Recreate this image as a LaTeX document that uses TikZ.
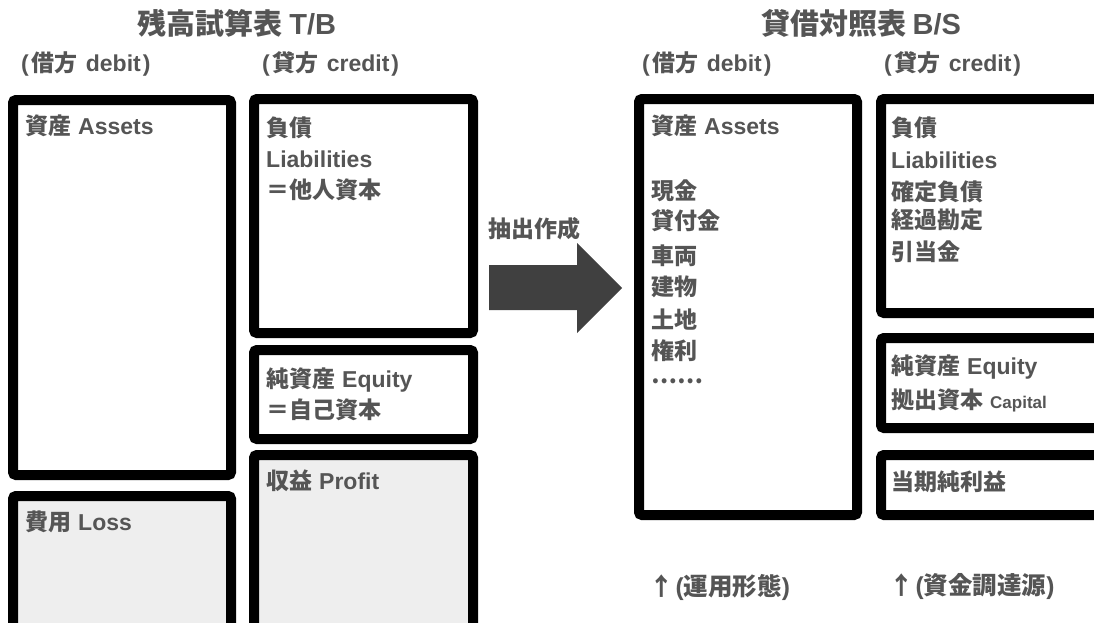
\documentclass[tikz,border=0pt]{standalone}
\usepackage{fontspec}
\setmainfont{Noto Sans CJK JP}
\newfontfamily\latfont{Liberation Sans}
\newcommand\enw[1]{{\latfont\bfseries #1}}
\newcommand\hdtext[2]{\enw{(}\kern3pt #1\hspace{8pt}\enw{#2}\kern2pt\enw{)}}
\begin{document}
\begin{tikzpicture}[x=1pt,y=-1pt,
  bx/.style={draw=black,line width=10pt,rounded corners=3pt,inner sep=0pt,outer sep=0pt},
  gr/.style={fill=gray!13},
  lb/.style={anchor=west,inner sep=0pt,text=txt,font=\bfseries\fontsize{23}{23}\selectfont},
  bt/.style={anchor=west,inner sep=0pt,text=txt,font=\bfseries\fontsize{24.5}{25}\selectfont},
  hd/.style={anchor=west,inner sep=0pt,text=txt,font=\bfseries\fontsize{23}{24}\selectfont},
  ttl/.style={anchor=center,inner sep=0pt,text=txt,font=\bfseries\fontsize{29}{29}\selectfont}]
\definecolor{txt}{HTML}{555555}
\definecolor{arr}{HTML}{404040}
\useasboundingbox (0,0) rectangle (1094,622);
\clip (0,0) rectangle (1094,622);
% boxes T/B
\node[bx,minimum width=218pt,minimum height=375pt] (tbA) at (122,287.5) {};
\node[bx,gr,minimum width=218pt,minimum height=139pt] (tbL) at (122,565.5) {};
\node[bx,minimum width=219pt,minimum height=234pt] (tbD) at (363.5,216) {};
\node[bx,minimum width=219pt,minimum height=89pt] (tbE) at (363.5,394.5) {};
\node[bx,gr,minimum width=219pt,minimum height=180pt] (tbP) at (363.5,545) {};
% boxes B/S
\node[bx,minimum width=218pt,minimum height=416pt] (bsA) at (748,307) {};
\node[bx,minimum width=224pt,minimum height=214pt] (bsD) at (993,206) {};
\node[bx,minimum width=224pt,minimum height=90pt] (bsE) at (993,383) {};
\node[bx,minimum width=224pt,minimum height=60pt] (bsN) at (993,485) {};
% titles
\node[ttl] (t1) at (237,23) {残高試算表 \enw{T/B}};
\node[ttl] (t2) at (861,23) {貸借対照表 \enw{B/S}};
\node[hd] (h1) at (21,64) {\hdtext{借方}{debit}};
\node[hd] (h2) at (262,64) {\hdtext{貸方}{credit}};
\node[hd] (h3) at (642,64) {\hdtext{借方}{debit}};
\node[hd] (h4) at (884,64) {\hdtext{貸方}{credit}};
% T/B labels
\node[lb] (a1) at (25,126) {資産\hspace{7pt}\enw{Assets}};
\node[lb] (d1) at (266,128) {負債};
\node[lb] (d2) at (266,159) {\enw{Liabilities}};
\node[lb] (d3) at (266,190) {＝他人資本};
\node[lb] (e1) at (266,380) {純資産\hspace{7pt}\enw{Equity}};
\node[lb] (e2) at (266,410) {＝自己資本};
\node[lb] (p1) at (266,481) {収益\hspace{7pt}\enw{Profit}};
\node[lb] (l1) at (25,522) {費用\hspace{7pt}\enw{Loss}};
% arrow
\node[lb] (ar) at (488,229) {抽出作成};
\fill[arr] (489,265) -- (577,265) -- (577,243) -- (622,288) -- (577,333) -- (577,310) -- (489,310) -- cycle;
% B/S labels
\node[lb] (b1) at (651,126) {資産\hspace{7pt}\enw{Assets}};
\node[lb] (b2) at (651,191) {現金};
\node[lb] (b3) at (651,221) {貸付金};
\node[lb] (b4) at (651,256) {車両};
\node[lb] (b5) at (651,287) {建物};
\node[lb] (b6) at (651,320) {土地};
\node[lb] (b7) at (651,351) {権利};
\node[lb] (b8) at (651,381) {……};
\node[lb] (c1) at (891,128) {負債};
\node[lb] (c2) at (891,160) {\enw{Liabilities}};
\node[lb] (c3) at (891,192) {確定負債};
\node[lb] (c4) at (891,220) {経過勘定};
\node[lb] (c5) at (891,252) {引当金};
\node[lb] (f1) at (891,367) {純資産\hspace{7pt}\enw{Equity}};
\node[lb] (f2) at (891,400) {拠出資本\hspace{7pt}{\fontsize{17}{17}\selectfont\enw{Capital}}};
\node[lb] (g1) at (891,482) {当期純利益};
\node[bt] (u1) at (649,587) {↑\kern2pt\enw{(}運用形態\enw{)}};
\node[bt] (u2) at (889,587) {↑\kern2pt\enw{(}資金調達源\enw{)}};
\end{tikzpicture}
\end{document}
